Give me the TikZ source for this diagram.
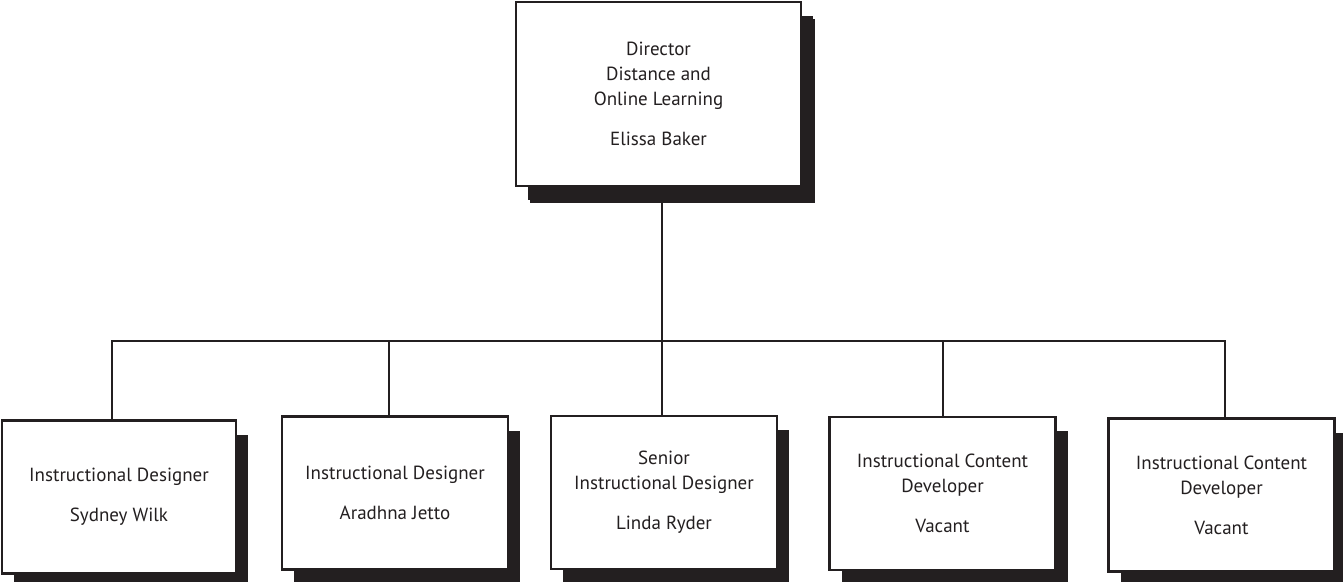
\documentclass[tikz,border=0pt]{standalone}
\usepackage{fontspec}
\setmainfont{PT Sans}
\usepackage{xcolor}
\usetikzlibrary{positioning,shadows}
\definecolor{ink}{HTML}{231F20}

\begin{document}
\begin{tikzpicture}[x=0.5pt,y=-0.5pt,ink,line width=1pt,
	unit/.style={draw=ink,fill=white,line width=1.3pt,align=center,inner sep=0pt,
		minimum width=113pt,minimum height=76.5pt,
		font=\fontsize{9.5}{12.5}\selectfont,
		drop shadow={shadow xshift=6pt,shadow yshift=-7pt,fill=ink,opacity=1}},
	head/.style={unit,minimum width=142.5pt,minimum height=92pt,
		drop shadow={shadow xshift=7pt,shadow yshift=-8.5pt,fill=ink,opacity=1}}]
	\useasboundingbox (0,0) rectangle (1343,582);

	\node [head] at (658.5,94) (dir) {Director\\Distance and\\Online Learning\\[7.5pt]Elissa Baker};
	\node [unit,minimum width=117pt] at (119,497) (id1) {Instructional Designer\\[7.5pt]Sydney Wilk};
	\node [unit] at (395,493) (id2) {Instructional Designer\\[7.5pt]Aradhna Jetto};
	\node [unit] at (664,492.5) (sid) {Senior\\Instructional Designer\\[7.5pt]Linda Ryder};
	\node [unit] at (942.5,493.5) (icd1) {Instructional Content\\Developer\\[7.5pt]Vacant};
	\node [unit] at (1221.5,495) (icd2) {Instructional Content\\Developer\\[7.5pt]Vacant};

	\coordinate (bus) at (661.5,341.5);

	\path[draw]
	([xshift=1.5pt]dir.south) -- (bus)
	(bus) -| ([xshift=-3.5pt]id1.north)
	(bus) -| ([xshift=-3pt]id2.north)
	(bus) -| ([xshift=-1pt]sid.north)
	(bus) -| (icd1.north)
	(bus) -| ([xshift=1.75pt]icd2.north);
\end{tikzpicture}
\end{document}
